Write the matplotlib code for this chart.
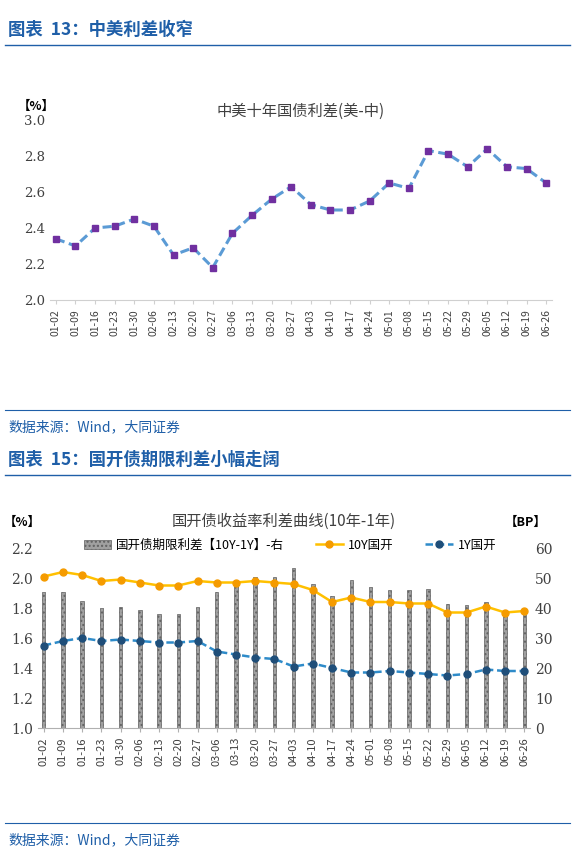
import matplotlib as mpl
mpl.use('Agg')
import matplotlib.pyplot as plt
import numpy as np

plt.rcParams['font.family'] = ['Noto Sans CJK SC', 'DejaVu Sans']

dates = ['01-02', '01-09', '01-16', '01-23', '01-30', '02-06', '02-13', '02-20', '02-27',
         '03-06', '03-13', '03-20', '03-27', '04-03', '04-10', '04-17', '04-24', '05-01',
         '05-08', '05-15', '05-22', '05-29', '06-05', '06-12', '06-19', '06-26']
cn_us = [2.34, 2.30, 2.40, 2.41, 2.45, 2.41, 2.25, 2.29, 2.18, 2.37, 2.47, 2.56, 2.63,
         2.53, 2.50, 2.50, 2.55, 2.65, 2.62, 2.83, 2.81, 2.74, 2.84, 2.74, 2.73, 2.65]
y10 = [2.01, 2.04, 2.02, 1.98, 1.99, 1.97, 1.95, 1.95, 1.98, 1.97, 1.97, 1.98, 1.97,
       1.96, 1.92, 1.84, 1.87, 1.84, 1.84, 1.83, 1.83, 1.77, 1.77, 1.81, 1.77, 1.78]
y1 = [1.55, 1.58, 1.60, 1.58, 1.59, 1.58, 1.57, 1.57, 1.58, 1.51, 1.49, 1.47, 1.46,
      1.41, 1.43, 1.40, 1.37, 1.37, 1.38, 1.37, 1.36, 1.35, 1.36, 1.39, 1.38, 1.38]
spread_bp = [45.5, 45.5, 42.5, 40, 40.5, 39.5, 38, 38, 40.5, 45.5, 48, 50.5, 50.5,
             53.5, 48, 44, 49.5, 47, 46, 46, 46.5, 41.5, 41, 42, 39, 39.5]

W, H = 576, 855
fig = plt.figure(figsize=(5.76, 8.55), dpi=100)
blue = '#1f5fa8'
x = np.arange(len(dates))


def header(y, text):
    fig.text(8 / W, 1 - y / H, text, color=blue, fontsize=12.5, fontweight='bold', va='center')
    fig.add_artist(plt.Line2D([5 / W, 570 / W], [1 - (y + 15) / H] * 2, color=blue, lw=1))


def source(y):
    fig.add_artist(plt.Line2D([5 / W, 570 / W], [1 - (y - 17) / H] * 2, color=blue, lw=0.8))
    fig.text(8 / W, 1 - y / H, '数据来源：Wind，大同证券', color=blue, fontsize=10,
             style='italic', va='center')


def ax_rect(l, t, r, b):
    return [l / W, 1 - b / H, (r - l) / W, (b - t) / H]


header(30, '图表  13：中美利差收窄')
source(427)
header(460, '图表  15：国开债期限利差小幅走阔')
source(840)

# top chart
ax = fig.add_axes(ax_rect(50, 120, 552, 300))
ax.plot(x, cn_us, color='#5b9bd5', lw=2.2, ls=(0, (3, 1.5)), marker='s', ms=5,
        mfc='#7030a0', mec='#7030a0')
ax.set_ylim(2.0, 3.0)
ax.set_xlim(-0.3, len(dates) - 0.7)
ax.set_yticks(np.arange(2.0, 3.01, 0.2))
ax.set_yticklabels(['%.1f' % v for v in np.arange(2.0, 3.01, 0.2)], fontsize=9.5,
                   family=['DejaVu Serif'], color='#404040')
ax.set_xticks(x)
ax.set_xticklabels(dates, rotation=90, fontsize=7.5, color='#404040')
for s in ['top', 'right', 'left']:
    ax.spines[s].set_visible(False)
ax.spines['bottom'].set_color('#d0d0d0')
ax.tick_params(axis='y', length=0)
ax.tick_params(axis='x', length=3, color='#d0d0d0')
ax.set_title('中美十年国债利差(美-中)', fontsize=11, color='#404040', pad=2)
fig.text(18 / W, 1 - 106 / H, '【%】', fontsize=9, fontweight='bold', va='center')

# bottom chart
ax2 = fig.add_axes(ax_rect(38, 548, 530, 728))
ax3 = ax2.twinx()
ax3.bar(x, spread_bp, width=0.18, color='#a0a0a0', edgecolor='#606060', hatch='....', lw=0.5,
        label='国开债期限利差【10Y-1Y】-右')
ax3.set_ylim(0, 60)
ax2.set_zorder(ax3.get_zorder() + 1)
ax2.patch.set_visible(False)
ax2.plot(x, y10, color='#ffc000', lw=1.8, marker='o', ms=5, mfc='#f59b00', mec='#f59b00',
         label='10Y国开')
ax2.plot(x, y1, color='#2e8bc9', lw=1.8, ls=(0, (3, 1.5)), marker='o', ms=5,
         mfc='#1f4e79', mec='#1f4e79', label='1Y国开')
ax2.set_ylim(1.0, 2.2)
ax2.set_xlim(-0.3, len(dates) - 0.7)
ax2.set_yticks(np.arange(1.0, 2.21, 0.2))
ax2.set_yticklabels(['%.1f' % v for v in np.arange(1.0, 2.21, 0.2)], fontsize=10,
                    family=['DejaVu Serif'], color='#404040')
ax3.set_yticks(range(0, 61, 10))
ax3.set_yticklabels([str(v) for v in range(0, 61, 10)], fontsize=10,
                    family=['DejaVu Serif'], color='#404040')
ax2.set_xticks(x)
ax2.set_xticklabels(dates, rotation=90, fontsize=8, color='#404040')
for a in (ax2, ax3):
    for s in ['top', 'right', 'left']:
        a.spines[s].set_visible(False)
    a.tick_params(axis='y', length=0)
ax2.spines['bottom'].set_color('#b0b0b0')
ax3.spines['bottom'].set_visible(False)
ax2.tick_params(axis='x', length=3, color='#b0b0b0')
ax2.set_title('国开债收益率利差曲线(10年-1年)', fontsize=11, color='#404040', pad=16)
fig.text(4 / W, 1 - 522 / H, '【%】', fontsize=9, fontweight='bold', va='center')
fig.text(505 / W, 1 - 522 / H, '【BP】', fontsize=9, fontweight='bold', va='center')
h1, l1 = ax3.get_legend_handles_labels()
h2, l2 = ax2.get_legend_handles_labels()
fig.legend(h1 + h2, l1 + l2, ncol=3, loc='center', bbox_to_anchor=(290 / W, 1 - 545 / H),
           frameon=False, fontsize=9, handlelength=2.2, columnspacing=2.5, handletextpad=0.4)

fig.savefig('out.png', dpi=100)
